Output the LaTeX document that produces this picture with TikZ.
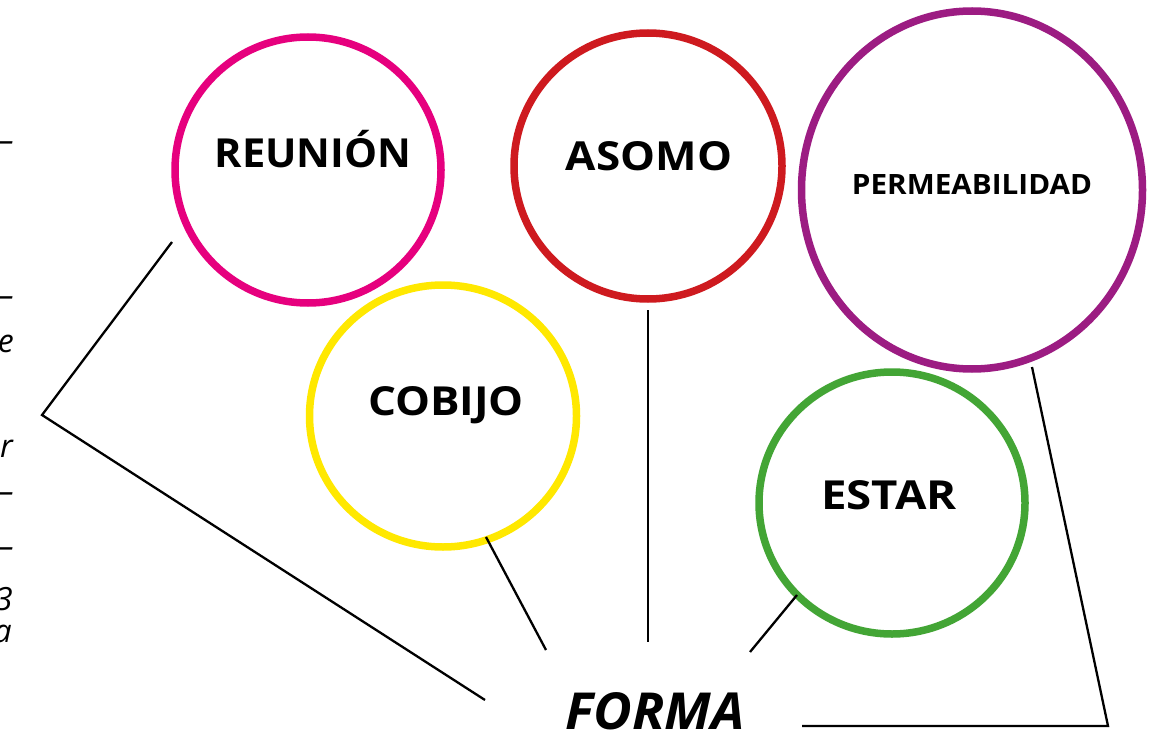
\documentclass[tikz,border=0pt]{standalone}
\usepackage{fontspec}
\setmainfont{Open Sans}
\usetikzlibrary{shapes.geometric}
\definecolor{cpink}{HTML}{E6007E}
\definecolor{cred}{HTML}{CE1A1F}
\definecolor{cpurple}{HTML}{9C1C82}
\definecolor{cyellow}{HTML}{FFE800}
\definecolor{cgreen}{HTML}{43A535}
\tikzset{
  ring/.style={ellipse, draw=#1, line width=7.5pt, inner sep=0pt},
  lbl/.style={font=\fontsize{#1}{#1}\selectfont\bfseries, inner sep=0pt},
  conn/.style={line width=2.3pt, black},
  frag/.style={font=\fontsize{32}{32}\selectfont\itshape, anchor=base east, inner sep=0pt}
}
\begin{document}
\begin{tikzpicture}[x=1pt,y=-1pt]
\useasboundingbox[fill=white] (0,0) rectangle (1161,738);
% circles
\node[ring=cpink, minimum width=266pt, minimum height=266pt] (creu) at (308,170) {};
\node[ring=cred, minimum width=268pt, minimum height=266pt] (caso) at (648,166) {};
\node[ring=cpurple, minimum width=341pt, minimum height=358pt] (cper) at (972,190) {};
\node[ring=cyellow, minimum width=267pt, minimum height=262pt] (ccob) at (443,416) {};
\node[ring=cgreen, minimum width=266pt, minimum height=262pt] (cest) at (892,503) {};
% labels
\node[lbl=40] (treu) at (313,149) {\scalebox{1.04}[1]{REUNIÓN}};
\node[lbl=40] (taso) at (649,156) {\scalebox{1.10}[1]{ASOMO}};
\node[lbl=28] (tper) at (972,184) {\scalebox{1.06}[1]{PERMEABILIDAD}};
\node[lbl=40] (tcob) at (446,405) {\scalebox{1.10}[1]{COBIJO}};
\node[lbl=40] (test) at (889,495) {\scalebox{1.14}[1]{ESTAR}};
\node[font=\fontsize{51}{51}\selectfont\bfseries\itshape, inner sep=0pt, anchor=base] (forma) at (655,729) {\scalebox{1.04}[1]{FORMA}};
% connector ends
\coordinate (a1) at (172,242);
\coordinate (a2) at (42,415);
\coordinate (a3) at (485,700);
\coordinate (b1) at (486,537);
\coordinate (b2) at (546,650);
\coordinate (c1) at (648,310);
\coordinate (c2) at (648,642);
\coordinate (d1) at (797,595);
\coordinate (d2) at (750,652);
\coordinate (e1) at (1032,367);
\coordinate (e2) at (1108,726);
\coordinate (e3) at (802,726);
\draw[conn] (a1) -- (a2) -- (a3);
\draw[conn] (b1) -- (b2);
\draw[conn] (c1) -- (c2);
\draw[conn] (d1) -- (d2);
\draw[conn] (e1) -- (e2) -- (e3);
% cropped text fragments at left edge
\node[frag] (f1) at (14,152) {–};
\node[frag] (f2) at (14,306) {–};
\node[frag] (f3) at (14,352) {e};
\node[frag] (f4) at (13,457) {r};
\node[frag] (f5) at (14,502) {–};
\node[frag] (f6) at (14,557) {–};
\node[frag] (f7) at (13,610) {3};
\node[frag] (f8) at (12,642) {a};
\end{tikzpicture}
\end{document}
